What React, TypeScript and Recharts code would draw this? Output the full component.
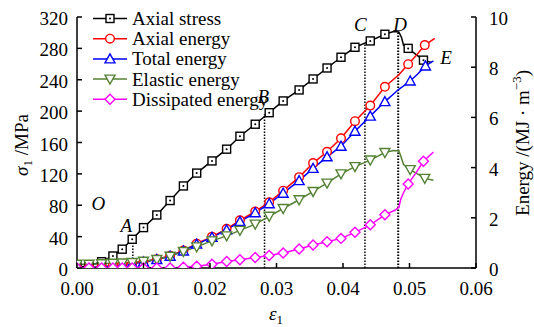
import React from 'react';
import { ComposedChart, Line, XAxis, YAxis, Scatter, Legend } from 'recharts';

const FONT = '"Liberation Serif", "Times New Roman", serif';

// [strain, value, marker shown (1/0)]
const axialStress: number[][] = [
  [0, 1, 1], [0.0018, 3, 1], [0.0037, 8, 1], [0.0054, 15.3, 1], [0.0068, 24, 1], [0.0083, 36.6, 1],
  [0.0100, 51.5, 1], [0.0120, 67.6, 1], [0.0140, 86, 1], [0.0160, 104.6, 1], [0.0180, 121, 1],
  [0.0203, 136.5, 1], [0.0225, 151.5, 1], [0.0245, 168, 1], [0.0268, 183.3, 1], [0.0289, 198, 1],
  [0.0310, 213, 1], [0.0334, 227, 1], [0.0355, 241, 1], [0.0376, 255, 1], [0.0397, 268.7, 1],
  [0.0418, 281.4, 1], [0.0441, 289.5, 1], [0.0463, 298, 1], [0.0476, 301.5, 0], [0.0484, 301, 0],
  [0.0488, 294, 0], [0.0491, 284, 0], [0.0498, 280, 1], [0.0510, 272, 0], [0.0521, 265, 1], [0.0533, 262, 0],
];

const axialEnergy: number[][] = [
  [0, 0, 1], [0.0018, 0.02, 1], [0.0037, 0.05, 1], [0.0054, 0.09, 1], [0.0068, 0.13, 1], [0.0083, 0.18, 1],
  [0.0100, 0.25, 1], [0.0120, 0.35, 1], [0.0140, 0.49, 1], [0.0160, 0.7, 1], [0.0180, 0.97, 1],
  [0.0203, 1.25, 1], [0.0225, 1.56, 1], [0.0245, 1.9, 1], [0.0268, 2.25, 1], [0.0289, 2.62, 1],
  [0.0310, 3.08, 1], [0.0334, 3.62, 1], [0.0355, 4.18, 1], [0.0376, 4.63, 1], [0.0397, 5.17, 1],
  [0.0418, 5.85, 1], [0.0441, 6.47, 1], [0.0463, 7.22, 1], [0.0484, 7.7, 0], [0.0498, 8.12, 1],
  [0.0511, 8.5, 0], [0.0523, 8.88, 1], [0.0538, 9.15, 0],
];

const totalEnergy: number[][] = [
  [0, 0, 1], [0.0018, 0.02, 1], [0.0037, 0.04, 1], [0.0054, 0.08, 1], [0.0068, 0.12, 1], [0.0083, 0.17, 1],
  [0.0100, 0.24, 1], [0.0120, 0.34, 1], [0.0140, 0.47, 1], [0.0160, 0.68, 1], [0.0180, 0.95, 1],
  [0.0203, 1.22, 1], [0.0225, 1.52, 1], [0.0245, 1.85, 1], [0.0268, 2.2, 1], [0.0289, 2.56, 1],
  [0.0310, 2.98, 1], [0.0334, 3.48, 1], [0.0355, 3.97, 1], [0.0376, 4.43, 1], [0.0397, 4.85, 1],
  [0.0418, 5.45, 1], [0.0441, 6.05, 1], [0.0463, 6.63, 1], [0.0484, 7.12, 0], [0.0501, 7.45, 1],
  [0.0512, 7.72, 0], [0.0524, 8.05, 1], [0.0536, 8.25, 0],
];

const elasticEnergy: number[][] = [
  [0, 0.15, 1], [0.0018, 0.15, 1], [0.0037, 0.17, 1], [0.0054, 0.19, 1], [0.0068, 0.2, 1], [0.0083, 0.22, 1],
  [0.0100, 0.27, 1], [0.0120, 0.34, 1], [0.0140, 0.47, 1], [0.0160, 0.66, 1], [0.0180, 0.84, 1],
  [0.0203, 1.08, 1], [0.0225, 1.28, 1], [0.0245, 1.5, 1], [0.0268, 1.75, 1], [0.0289, 2.06, 1],
  [0.0310, 2.37, 1], [0.0334, 2.72, 1], [0.0355, 3.05, 1], [0.0376, 3.38, 1], [0.0397, 3.75, 1],
  [0.0418, 4.04, 1], [0.0441, 4.3, 1], [0.0463, 4.6, 1], [0.0476, 4.68, 0], [0.0484, 4.66, 0],
  [0.0487, 4.45, 0], [0.0491, 4.12, 0], [0.0501, 3.92, 1], [0.0512, 3.75, 0], [0.0523, 3.57, 1], [0.0536, 3.5, 0],
];

const dissipatedEnergy: number[][] = [
  [0, 0, 1], [0.0018, 0, 1], [0.0037, 0, 1], [0.0054, 0, 1], [0.0068, 0, 1], [0.0083, 0, 1],
  [0.0100, 0, 1], [0.0120, 0, 1], [0.0140, 0, 1], [0.0160, 0.03, 1], [0.0180, 0.07, 1],
  [0.0203, 0.15, 1], [0.0225, 0.26, 1], [0.0245, 0.33, 1], [0.0268, 0.42, 1], [0.0289, 0.5, 1],
  [0.0310, 0.6, 1], [0.0334, 0.76, 1], [0.0355, 0.92, 1], [0.0376, 1.05, 1], [0.0397, 1.18, 1],
  [0.0418, 1.42, 1], [0.0441, 1.72, 1], [0.0463, 2.12, 1], [0.0478, 2.3, 0], [0.0484, 2.42, 0],
  [0.0487, 2.75, 0], [0.0491, 3.0, 0], [0.0498, 3.35, 1], [0.0510, 3.8, 0], [0.0521, 4.25, 1], [0.0536, 4.62, 0],
];

// dotted guide lines: [strain, stress at top]
const guides: number[][] = [[0.0084, 37], [0.0282, 196], [0.0433, 287], [0.0483, 301]];

// point letters: [label, strain, stress]
const letters: [string, number, number][] = [
  ['O', 0.0032, 82], ['A', 0.0074, 54], ['B', 0.0280, 219], ['C', 0.0426, 310], ['D', 0.0486, 311], ['E', 0.0555, 268],
];

const xTicks = [0, 0.01, 0.02, 0.03, 0.04, 0.05, 0.06];
const stressTicks = [0, 40, 80, 120, 160, 200, 240, 280, 320];
const energyTicks = [0, 2, 4, 6, 8, 10];

const series = [
  { name: 'Axial stress', color: '#000000', shape: 'square', axis: 'left', pts: axialStress },
  { name: 'Axial energy', color: '#ff0000', shape: 'circle', axis: 'right', pts: axialEnergy },
  { name: 'Total energy', color: '#0000ff', shape: 'triangle', axis: 'right', pts: totalEnergy },
  { name: 'Elastic energy', color: '#548235', shape: 'triangleDown', axis: 'right', pts: elasticEnergy },
  { name: 'Dissipated energy', color: '#ff00ff', shape: 'diamond', axis: 'right', pts: dissipatedEnergy },
];
const drawOrder = [0, 1, 2, 3, 4];

function Marker({ shape, cx, cy, color }: { shape: string; cx: number; cy: number; color: string }) {
  const sw = 1.4;
  if (shape === 'square') {
    return (
      <g>
        <rect x={cx - 4} y={cy - 4} width={8} height={8} fill="#fff" stroke={color} strokeWidth={sw} />
        <circle cx={cx} cy={cy} r={1} fill={color} />
      </g>
    );
  }
  if (shape === 'circle') {
    return <circle cx={cx} cy={cy} r={4.3} fill="#fff" stroke={color} strokeWidth={sw} />;
  }
  if (shape === 'triangle') {
    return <polygon points={`${cx},${cy - 5} ${cx - 5},${cy + 4} ${cx + 5},${cy + 4}`} fill="#fff" stroke={color} strokeWidth={sw} />;
  }
  if (shape === 'triangleDown') {
    return <polygon points={`${cx - 5},${cy - 4} ${cx + 5},${cy - 4} ${cx},${cy + 5}`} fill="#fff" stroke={color} strokeWidth={sw} />;
  }
  return <polygon points={`${cx},${cy - 5} ${cx + 5},${cy} ${cx},${cy + 5} ${cx - 5},${cy}`} fill="#fff" stroke={color} strokeWidth={sw} />;
}

const XTick = (p: any) => {
  const { x, y, payload } = p;
  return (
    <g>
      <line x1={x} x2={x} y1={y} y2={y - 5} stroke="#000" strokeWidth={1.5} />
      <text x={x} y={y + 27} textAnchor="middle" fontSize={19} fontFamily={FONT} fill="#000">
        {Number(payload.value).toFixed(2)}
      </text>
    </g>
  );
};

const LeftTick = (p: any) => {
  const { x, y, payload } = p;
  return (
    <g>
      <line x1={x} x2={x + 5} y1={y} y2={y} stroke="#000" strokeWidth={1.5} />
      <text x={x - 9} y={y + 8} textAnchor="end" fontSize={19} fontFamily={FONT} fill="#000">
        {payload.value}
      </text>
    </g>
  );
};

const RightTick = (p: any) => {
  const { x, y, payload } = p;
  return (
    <g>
      <line x1={x - 5} x2={x} y1={y} y2={y} stroke="#000" strokeWidth={1.5} />
      <text x={x + 13} y={y + 8} textAnchor="start" fontSize={19} fontFamily={FONT} fill="#000">
        {payload.value}
      </text>
    </g>
  );
};

const LegendBox = () => (
  <svg width={300} height={115} style={{ display: 'block' }}>
    {series.map((s, i) => {
      const cy = 18.5 + i * 20.2;
      return (
        <g key={s.name}>
          <line x1={93} x2={127} y1={cy} y2={cy} stroke={s.color} strokeWidth={1.5} />
          <Marker shape={s.shape} cx={110} cy={cy} color={s.color} />
          <text x={132} y={cy + 6.5} fontSize={19} fontFamily={FONT} fill="#000">{s.name}</text>
        </g>
      );
    })}
  </svg>
);

export default function App() {
  const letterData = letters.map(([t, x, y]) => ({ t, x, y }));
  return (
    <div style={{ position: 'absolute', left: 0, top: 0, width: 534, height: 327, background: '#fff' }}>
      <ComposedChart width={534} height={327} margin={{ top: 17, right: 0, bottom: 0, left: 0 }}>
        <XAxis
          type="number"
          dataKey="x"
          xAxisId="x"
          domain={[0, 0.06]}
          ticks={xTicks}
          interval={0}
          allowDataOverflow
          height={59}
          tickSize={0}
          tickMargin={0}
          tickLine={false}
          tick={(p: any) => <XTick {...p} />}
          axisLine={{ stroke: '#000', strokeWidth: 1.5 }}
        />
        <YAxis
          yAxisId="left"
          type="number"
          dataKey="y"
          domain={[0, 320]}
          ticks={stressTicks}
          interval={0}
          allowDataOverflow
          width={77}
          tickSize={0}
          tickMargin={0}
          tickLine={false}
          tick={(p: any) => <LeftTick {...p} />}
          axisLine={{ stroke: '#000', strokeWidth: 1.5 }}
        />
        <YAxis
          yAxisId="right"
          orientation="right"
          type="number"
          dataKey="y"
          domain={[0, 10]}
          ticks={energyTicks}
          interval={0}
          allowDataOverflow
          width={58}
          tickSize={0}
          tickMargin={0}
          tickLine={false}
          tick={(p: any) => <RightTick {...p} />}
          axisLine={{ stroke: '#000', strokeWidth: 1.5 }}
        />
        {guides.map(([gx, top], i) => (
          <Line
            key={'g' + i}
            xAxisId="x"
            yAxisId="left"
            data={[{ x: gx, y: 0 }, { x: gx, y: top }]}
            dataKey="y"
            stroke="#000"
            strokeWidth={i === 3 ? 2 : 1.5}
            strokeDasharray="1.5 1.5"
            dot={false}
            activeDot={false}
            isAnimationActive={false}
            legendType="none"
          />
        ))}
        {drawOrder.map((idx) => {
          const s = series[idx];
          const data = s.pts.map(([x, y, m]) => ({ x, y, m }));
          return (
            <Line
              key={s.name}
              xAxisId="x"
              yAxisId={s.axis}
              data={data}
              dataKey="y"
              name={s.name}
              type="linear"
              stroke={s.color}
              strokeWidth={1.5}
              isAnimationActive={false}
              activeDot={false}
              dot={(p: any) =>
                p.payload && p.payload.m ? (
                  <g key={s.name + p.index}>
                    <Marker shape={s.shape} cx={p.cx} cy={p.cy} color={s.color} />
                  </g>
                ) : (
                  <g key={s.name + p.index} />
                )
              }
            />
          );
        })}
        <Scatter
          xAxisId="x"
          yAxisId="left"
          data={letterData}
          isAnimationActive={false}
          legendType="none"
          shape={(p: any) => (
            <text x={p.cx} y={p.cy + 6.5} textAnchor="middle" fontSize={19} fontStyle="italic" fontFamily={FONT} fill="#000">
              {p.payload.t}
            </text>
          )}
        />
        <Legend
          layout="horizontal"
          verticalAlign="middle"
          align="center"
          wrapperStyle={{ left: 0, top: 0, width: 300, height: 115 }}
          content={() => <LegendBox />}
        />
      </ComposedChart>
      <svg width={534} height={327} style={{ position: 'absolute', left: 0, top: 0, pointerEvents: 'none' }}>
        <text transform="translate(28,145) rotate(-90)" textAnchor="middle" fontSize={19} fontFamily={FONT} fill="#000">
          <tspan fontStyle="italic">σ</tspan>
          <tspan fontSize={13} dy={4}>1</tspan>
          <tspan dy={-4}> /MPa</tspan>
        </text>
        <text transform="translate(529,143) rotate(-90)" textAnchor="middle" fontSize={19} fontFamily={FONT} fill="#000">
          <tspan>Energy /(MJ · m</tspan>
          <tspan fontSize={13} dy={-8}>−3</tspan>
          <tspan dy={8}>)</tspan>
        </text>
        <text x={276} y={320} textAnchor="middle" fontSize={19} fontFamily={FONT} fill="#000">
          <tspan fontStyle="italic">ε</tspan>
          <tspan fontSize={13} dy={4}>1</tspan>
        </text>
      </svg>
    </div>
  );
}
